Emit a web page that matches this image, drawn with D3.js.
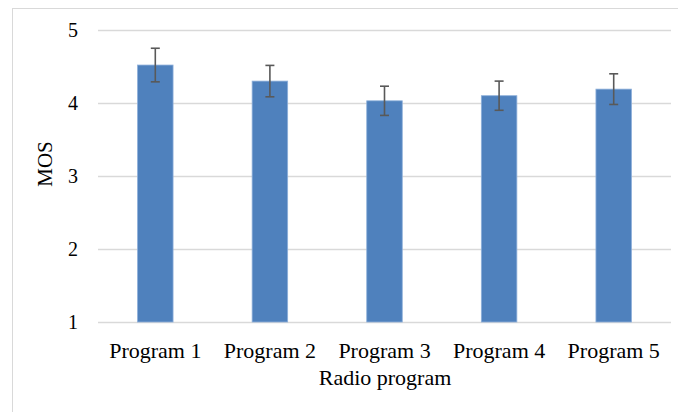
<!DOCTYPE html>
<html><head><meta charset="utf-8">
<script src="https://cdn.jsdelivr.net/npm/d3@7"></script>
<style>body{margin:0;background:#fff}svg{display:block}
svg text{font-family:"Liberation Serif","Times New Roman",Tinos,"DejaVu Serif",serif !important;fill:#000}
</style>
</head><body>
<script>
const categories = ["Program 1","Program 2","Program 3","Program 4","Program 5"];
const mosValues = [4.52, 4.30, 4.03, 4.10, 4.19];
const errValues = [0.23, 0.215, 0.20, 0.20, 0.21];
const yTicks = [1,2,3,4,5];

const W = 678, H = 412;
const svg = d3.select("body").append("svg").attr("width", W).attr("height", H);
svg.append("rect").attr("width", W).attr("height", H).attr("fill", "#fff");
svg.append("rect").attr("x", 12.5).attr("y", 8.5).attr("width", W).attr("height", H)
  .attr("fill", "none").attr("stroke", "#d9d9d9").attr("stroke-width", 1);

const x = d3.scaleBand().domain(categories).range([98, 671]).paddingInner(0.69).paddingOuter(0.345);
const y = d3.scaleLinear().domain([1,5]).range([322, 30]);

// gridlines
svg.append("g").selectAll("line").data(yTicks).join("line")
  .attr("x1", 98).attr("x2", 671)
  .attr("y1", d => Math.round(y(d)) + 0.5).attr("y2", d => Math.round(y(d)) + 0.5)
  .attr("stroke", "#d9d9d9").attr("stroke-width", 1.5);

// y tick labels
const yAxis = svg.append("g").attr("transform", "translate(98,0)")
  .call(d3.axisLeft(y).tickValues(yTicks).tickSize(0).tickPadding(20).tickFormat(d3.format("d")));
yAxis.select(".domain").remove();
yAxis.selectAll("text").style("font-size", "20px");

// bars
svg.append("g").selectAll("rect").data(categories).join("rect")
  .attr("x", d => x(d)).attr("width", x.bandwidth())
  .attr("y", (d,i) => y(mosValues[i])).attr("height", (d,i) => y(1) - y(mosValues[i]))
  .attr("fill", "#4f81bd").attr("stroke", "#8eb0da").attr("stroke-width", 0.8);

// error bars
const eg = svg.append("g").attr("stroke", "#595959").attr("stroke-width", 1.6);
categories.forEach((c, i) => {
  const cx = x(c) + x.bandwidth()/2;
  const t = y(mosValues[i] + errValues[i]), b = y(mosValues[i] - errValues[i]);
  eg.append("line").attr("x1", cx).attr("x2", cx).attr("y1", t).attr("y2", b);
  eg.append("line").attr("x1", cx-4.5).attr("x2", cx+4.5).attr("y1", t).attr("y2", t);
  eg.append("line").attr("x1", cx-4.5).attr("x2", cx+4.5).attr("y1", b).attr("y2", b);
});

// x axis
const xAxis = svg.append("g").attr("transform", "translate(0,322)")
  .call(d3.axisBottom(x).tickSize(0).tickPadding(20.4));
xAxis.select(".domain").remove();
xAxis.selectAll("text").style("font-size", "22px");

svg.append("text").attr("x", 385).attr("y", 385).attr("text-anchor", "middle")
  .style("font-size", "22px").text("Radio program");
svg.append("text").attr("transform", "translate(52,164) rotate(-90)").attr("text-anchor", "middle")
  .style("font-size", "21px").text("MOS");
</script>
</body></html>
